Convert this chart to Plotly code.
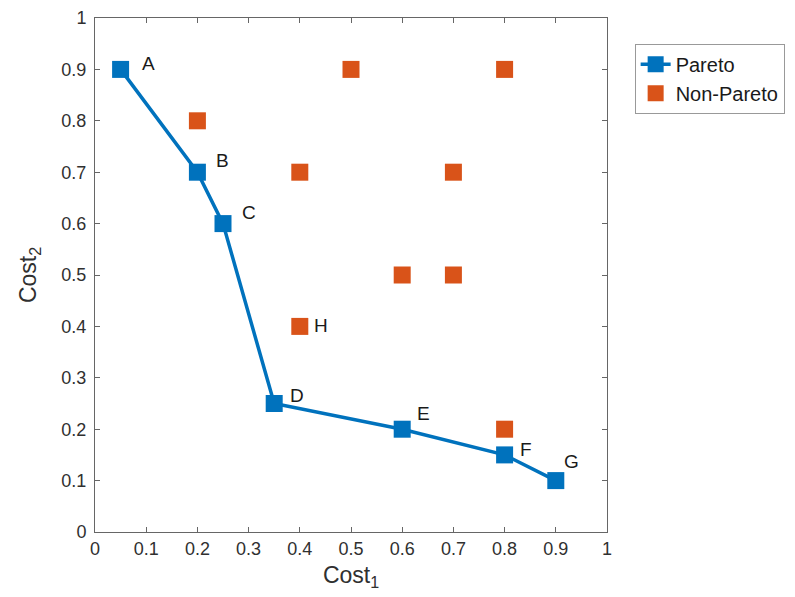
import plotly.graph_objects as go

pareto_x = [0.05, 0.2, 0.25, 0.35, 0.6, 0.8, 0.9]
pareto_y = [0.9, 0.7, 0.6, 0.25, 0.2, 0.15, 0.1]
pareto_labels = ["A", "B", "C", "D", "E", "F", "G"]

non_x = [0.2, 0.5, 0.8, 0.4, 0.7, 0.6, 0.7, 0.4, 0.8]
non_y = [0.8, 0.9, 0.9, 0.7, 0.7, 0.5, 0.5, 0.4, 0.2]

h_label = ("H", 0.4, 0.4)

tick_vals = [0, 0.1, 0.2, 0.3, 0.4, 0.5, 0.6, 0.7, 0.8, 0.9, 1]
tick_text = ["0", "0.1", "0.2", "0.3", "0.4", "0.5", "0.6", "0.7", "0.8", "0.9", "1"]

BLUE = "#0072BD"
ORANGE = "#D95319"
FONT = "Liberation Sans, Arial, sans-serif"

fig = go.Figure()
fig.add_trace(go.Scatter(
    x=pareto_x, y=pareto_y, mode="lines+markers", name="Pareto",
    line=dict(color=BLUE, width=3.5),
    marker=dict(symbol="square", size=17, color=BLUE),
))
fig.add_trace(go.Scatter(
    x=non_x, y=non_y, mode="markers", name="Non-Pareto",
    marker=dict(symbol="square", size=17, color=ORANGE),
))

# label offsets (pixels) per point
offsets = {"A": (28, 6), "B": (25, 12), "C": (26, 11), "D": (23, 8),
           "E": (21, 16), "F": (21, 5), "G": (16, 19), "H": (21, 1)}
for lab, x, y in list(zip(pareto_labels, pareto_x, pareto_y)) + [h_label]:
    dx, dy = offsets[lab]
    fig.add_annotation(x=x, y=y, text=lab, showarrow=False, xshift=dx, yshift=dy,
                       font=dict(size=19, color="#1a1a1a", family=FONT))

axis_common = dict(
    range=[0, 1], tickvals=tick_vals, ticktext=tick_text, automargin=False,
    showgrid=False, zeroline=False, showline=True, linecolor="#666666", linewidth=1,
    mirror="ticks", ticks="inside", ticklen=5, tickcolor="#666666",
    tickfont=dict(size=18, color="#303030", family=FONT),
)
fig.update_xaxes(**axis_common, title=dict(text="Cost<sub>1</sub>", font=dict(size=23, color="#303030", family=FONT), standoff=9))
fig.update_yaxes(**axis_common, ticklabelstandoff=4,
                 title=dict(text="Cost<sub>2</sub>", font=dict(size=23, color="#303030", family=FONT), standoff=18))

# the page body has an 8px default margin; compensate so the axes land where the reference has them
fig.update_layout(
    width=787, height=589,
    margin=dict(l=87, r=188, t=10, b=65, autoexpand=False),
    plot_bgcolor="white", paper_bgcolor="white",
    font=dict(family=FONT),
    legend=dict(x=1.054, y=0.95, xanchor="left", yanchor="top",
                bordercolor="#999999", borderwidth=1,
                font=dict(size=20, color="#1a1a1a", family=FONT),
                tracegroupgap=0, itemwidth=30),
    showlegend=True,
)

fig.write_html("out.html")
